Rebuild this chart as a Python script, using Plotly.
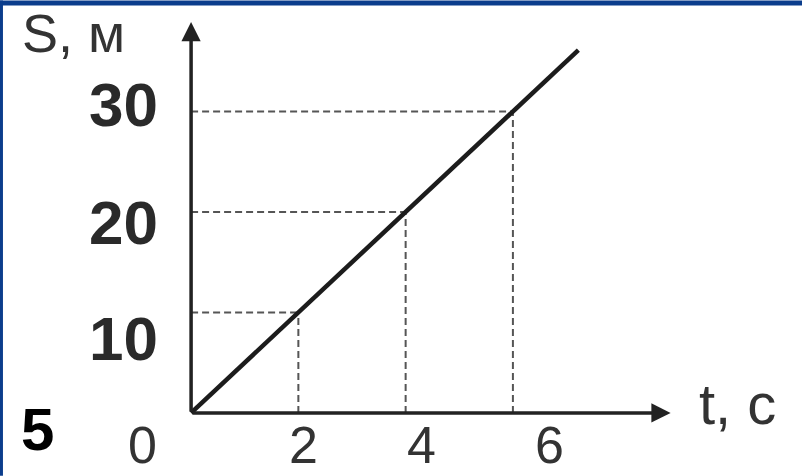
import plotly.graph_objects as go

# ---- data ----
t_points = [2, 4, 6]          # time marks, s
s_points = [10, 20, 30]       # distance marks, m
t_line = [0, 7.22]            # S(t) line endpoints
s_line = [0, 36.1]
t_axis_max = 8.94             # arrow tip of t axis
s_axis_max = 38.9             # arrow tip of S axis
x_tick_labels = ["2", "4", "6"]
y_tick_labels = ["10", "20", "30"]

# ---- pixel scale (layout) ----
W, H = 802, 476
X0, Y0 = 191.0, 413.0   # pixel of origin
SX, SY = 53.6, 10.06    # px per unit
xr = [-0.3, 9.6]
yr = [-1.5, 39.6]
l = X0 + xr[0] * SX
plot_w = (xr[1] - xr[0]) * SX
r = W - l - plot_w
b = H - Y0 + yr[0] * SY
plot_h = (yr[1] - yr[0]) * SY
t = H - b - plot_h

def xp(px):
    return (px - l) / plot_w

def yp(py):
    return (H - py - b) / plot_h

fig = go.Figure()

# dashed guide lines
dash_style = dict(color="#555555", width=2, dash="7px,4px")
for tp, sp in zip(t_points, s_points):
    fig.add_trace(go.Scatter(x=[0, tp], y=[sp, sp], mode="lines",
                             line=dash_style, hoverinfo="skip", showlegend=False))
    fig.add_trace(go.Scatter(x=[tp, tp], y=[0, sp], mode="lines",
                             line=dash_style, hoverinfo="skip", showlegend=False))

# main line
fig.add_trace(go.Scatter(x=t_line, y=s_line, mode="lines",
                         line=dict(color="#1c1c1c", width=4.5),
                         hoverinfo="skip", showlegend=False))

ann = []
# axes with arrows
ann.append(dict(x=t_axis_max, y=0, ax=0, ay=0, xref="x", yref="y",
                axref="x", ayref="y", text="", showarrow=True,
                arrowhead=2, arrowsize=1.1, arrowwidth=3.5, arrowcolor="#222222",
                standoff=0, startstandoff=0))
ann.append(dict(x=0, y=s_axis_max, ax=0, ay=0, xref="x", yref="y",
                axref="x", ayref="y", text="", showarrow=True,
                arrowhead=2, arrowsize=1.1, arrowwidth=3.5, arrowcolor="#222222",
                standoff=0, startstandoff=0))

font_reg = "Liberation Sans, Arial, sans-serif"
# y tick labels (bold)
y_label_px = [338, 222, 104]
for lab, py in zip(y_tick_labels, y_label_px):
    ann.append(dict(x=xp(160), y=yp(py), xref="paper", yref="paper", text=lab,
                    showarrow=False, xanchor="right", yanchor="middle",
                    font=dict(family=font_reg, size=62, color="#2a2a2a", weight="bold")))
# x tick labels
x_label_px = [303, 421, 549]
for lab, px in zip(x_tick_labels, x_label_px):
    ann.append(dict(x=xp(px), y=yp(H), xref="paper", yref="paper", text=lab,
                    showarrow=False, xanchor="center", yanchor="bottom",
                    font=dict(family=font_reg, size=52, color="#333333")))
# origin label
ann.append(dict(x=xp(142), y=yp(H), xref="paper", yref="paper", text="0",
                showarrow=False, xanchor="center", yanchor="bottom",
                font=dict(family=font_reg, size=52, color="#333333")))
# axis titles
ann.append(dict(x=xp(20), y=yp(1), xref="paper", yref="paper", text="S, м",
                showarrow=False, xanchor="left", yanchor="top",
                font=dict(family=font_reg, size=54, color="#333333")))
ann.append(dict(x=xp(697), y=yp(404), xref="paper", yref="paper", text="t, с",
                showarrow=False, xanchor="left", yanchor="middle",
                font=dict(family=font_reg, size=58, color="#333333")))
# problem number
ann.append(dict(x=xp(38), y=yp(430), xref="paper", yref="paper", text="5",
                showarrow=False, xanchor="center", yanchor="middle",
                font=dict(family=font_reg, size=60, color="#000000", weight="bold")))

shapes = [
    # blue frame strips
    dict(type="rect", xref="paper", yref="paper", x0=xp(0), x1=xp(W), y0=yp(5), y1=yp(0),
         fillcolor="#0b3d8c", line=dict(width=0), layer="above"),
    dict(type="rect", xref="paper", yref="paper", x0=xp(0), x1=xp(3), y0=yp(H), y1=yp(0),
         fillcolor="#0b3d8c", line=dict(width=0), layer="above"),
]

fig.update_layout(
    width=W, height=H,
    margin=dict(l=l, r=r, t=t, b=b, pad=0, autoexpand=False),
    paper_bgcolor="white", plot_bgcolor="white",
    xaxis=dict(range=xr, visible=False, fixedrange=True),
    yaxis=dict(range=yr, visible=False, fixedrange=True),
    annotations=ann, shapes=shapes, showlegend=False,
)

fig.write_html("out.html", config={"displayModeBar": False},
               post_script="document.body.style.margin='0';document.body.style.overflow='hidden';")
